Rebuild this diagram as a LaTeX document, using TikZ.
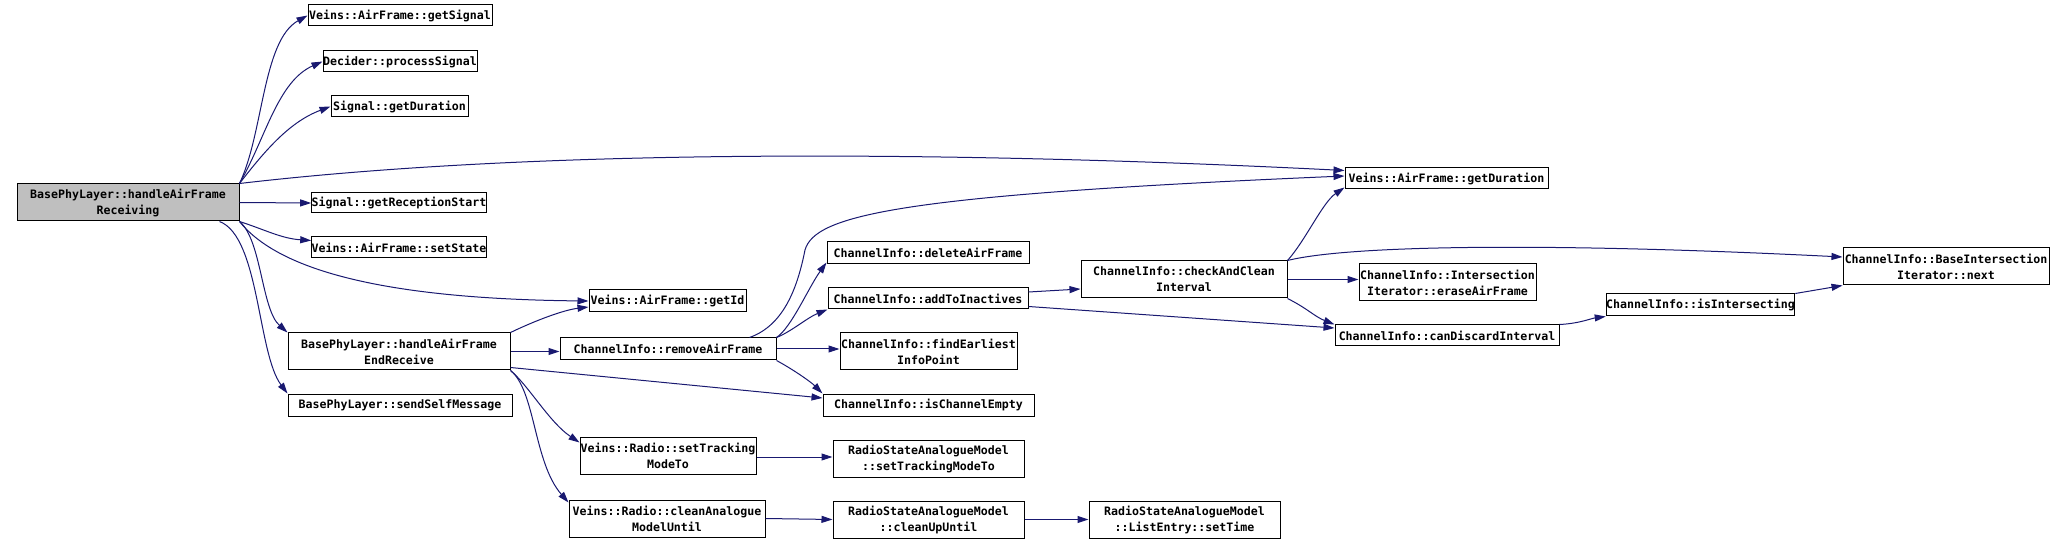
\documentclass[tikz,border=0pt]{standalone}
\usepackage{fontspec}
\setmonofont{DejaVu Sans Mono}
\usetikzlibrary{arrows.meta}
\definecolor{edgecol}{HTML}{191970}
\tikzset{
  fn/.style={draw=black, line width=1pt, inner sep=0pt, align=center,
    font=\ttfamily\bfseries\fontsize{11.6}{16}\selectfont, text=black, fill=white},
  root/.style={fn, fill=black!25},
  call/.style={draw=edgecol, line width=1pt, -{Triangle[length=11pt,width=7pt]}},
}
\begin{document}
\begin{tikzpicture}[x=1pt,y=-1pt]
\useasboundingbox (0,0) rectangle (2065,545);
% nodes
\node[root, minimum width=222pt, minimum height=37pt] (main) at (128,202.5) {BasePhyLayer::handleAirFrame\\Receiving};
\node[fn, minimum width=184pt, minimum height=21pt] (gSig) at (400,15.5) {Veins::AirFrame::getSignal};
\node[fn, minimum width=154pt, minimum height=21pt] (pSig) at (400,61.5) {Decider::processSignal};
\node[fn, minimum width=137pt, minimum height=21pt] (sgD) at (399.5,106.5) {Signal::getDuration};
\node[fn, minimum width=172pt, minimum height=20pt] (gRS) at (399,203) {Signal::getReceptionStart};
\node[fn, minimum width=172pt, minimum height=21pt] (sSt) at (399,247.5) {Veins::AirFrame::setState};
\node[fn, minimum width=157pt, minimum height=22pt] (gId) at (667.5,301) {Veins::AirFrame::getId};
\node[fn, minimum width=222pt, minimum height=37pt] (hafer) at (399,351.5) {BasePhyLayer::handleAirFrame\\EndReceive};
\node[fn, minimum width=224pt, minimum height=22pt] (ssm) at (400,405) {BasePhyLayer::sendSelfMessage};
\node[fn, minimum width=216pt, minimum height=22pt] (raf) at (668,349) {ChannelInfo::removeAirFrame};
\node[fn, minimum width=176pt, minimum height=37pt] (rstm) at (668,455.5) {Veins::Radio::setTracking\\ModeTo};
\node[fn, minimum width=196pt, minimum height=37pt] (camu) at (667,518.5) {Veins::Radio::cleanAnalogue\\ModelUntil};
\node[fn, minimum width=202pt, minimum height=22pt] (daf) at (928,253) {ChannelInfo::deleteAirFrame};
\node[fn, minimum width=200pt, minimum height=21pt] (ati) at (928,298.5) {ChannelInfo::addToInactives};
\node[fn, minimum width=177pt, minimum height=37pt] (feip) at (928.5,351.5) {ChannelInfo::findEarliest\\InfoPoint};
\node[fn, minimum width=211pt, minimum height=22pt] (ice) at (928.5,405) {ChannelInfo::isChannelEmpty};
\node[fn, minimum width=191pt, minimum height=37pt] (rsamstm) at (928.5,458.5) {RadioStateAnalogueModel\\::setTrackingModeTo};
\node[fn, minimum width=191pt, minimum height=37pt] (cuu) at (928.5,519.5) {RadioStateAnalogueModel\\::cleanUpUntil};
\node[fn, minimum width=203pt, minimum height=21pt] (afgd) at (1446.5,178.5) {Veins::AirFrame::getDuration};
\node[fn, minimum width=206pt, minimum height=37pt] (caci) at (1184,279.5) {ChannelInfo::checkAndClean\\Interval};
\node[fn, minimum width=177pt, minimum height=37pt] (eaf) at (1447.5,282.5) {ChannelInfo::Intersection\\Iterator::eraseAirFrame};
\node[fn, minimum width=224pt, minimum height=21pt] (cdi) at (1447,335.5) {ChannelInfo::canDiscardInterval};
\node[fn, minimum width=191pt, minimum height=37pt] (stime) at (1184.5,519.5) {RadioStateAnalogueModel\\::ListEntry::setTime};
\node[fn, minimum width=185pt, minimum height=22pt] (isi) at (1700.5,305) {ChannelInfo::isIntersecting};
\node[fn, minimum width=206pt, minimum height=37pt] (biin) at (1946,266.5) {ChannelInfo::BaseIntersection\\Iterator::next};
% edges from main
\draw[call] (main.north east) .. controls +(24,-50) and +(-45,25) .. (gSig.west);
\draw[call] (main.north east) .. controls +(26,-45) and +(-45,20) .. (pSig.west);
\draw[call] (main.north east) .. controls +(27,-35) and +(-40,15) .. (sgD.west);
\draw[call] (main.north east) .. controls +(300,-35) and +(-400,-20) .. ([yshift=8pt]afgd.west);
\draw[call] (main.east) -- (gRS.west);
\draw[call] (main.south east) .. controls +(25,8) and +(-30,-2) .. ([yshift=7pt]sSt.west);
\draw[call] (main.south east) .. controls +(40,50) and +(-200,-2) .. (gId.west);
\draw[call] (main.south east) .. controls +(22,18) and +(-26,-23) .. (hafer.north west);
\draw[call] ([xshift=-20pt]main.south east) .. controls +(40,15) and +(-30,-40) .. (ssm.north west);
% edges from hafer
\draw[call] (hafer.north east) .. controls +(25,-12) and +(-25,3) .. ([yshift=-6pt]gId.west);
\draw[call] (hafer.east) -- (hafer.east -| raf.west);
\draw[call] ([yshift=3pt]hafer.south east) -- ([yshift=7pt]ice.west);
\draw[call] (hafer.south east) .. controls +(18,15) and +(-30,-20) .. ([yshift=-6pt]rstm.north west);
\draw[call] (hafer.south east) .. controls +(25,20) and +(-35,-40) .. ([yshift=-3pt]camu.north west);
% edges from raf
\draw[call] ([xshift=-27pt]raf.north east) .. controls (785,325) and (798,285) .. (805,250) .. controls (815,215) and (900,195) .. ([yshift=2.5pt]afgd.west);
\draw[call] (raf.north east) .. controls +(15,-10) and +(-18,25) .. ([yshift=2pt]daf.south west);
\draw[call] (raf.north east) .. controls +(15,-6) and +(-20,8) .. (ati.south west);
\draw[call] (raf.east) -- (raf.east -| feip.west);
\draw[call] (raf.south east) .. controls +(15,8) and +(-12,-12) .. (ice.north west);
% edges from ati
\draw[call] ([yshift=6.5pt]ati.east) -- ([yshift=-9.5pt]caci.west);
\draw[call] ([yshift=-8pt]ati.east) -- ([yshift=7.5pt]cdi.west);
% edges from caci
\draw[call] (caci.north east) .. controls +(18,-20) and +(-22,15) .. ([yshift=2pt]afgd.south west);
\draw[call] (caci.north east) .. controls +(60,-15) and +(-300,-15) .. ([yshift=9.5pt]biin.west);
\draw[call] (caci.east) -- (caci.east -| eaf.west);
\draw[call] (caci.south east) .. controls +(20,10) and +(-20,-8) .. (cdi.north west);
% others
\draw[call] (cdi.north east) .. controls +(20,-1) and +(-15,2) .. (isi.south west);
\draw[call] (isi.north east) -- (biin.south west);
\draw[call] ([yshift=-1.5pt]rstm.east) -- ([yshift=1.5pt]rsamstm.west);
\draw[call] (camu.east) -- (cuu.west);
\draw[call] (cuu.east) -- (stime.west);
\end{tikzpicture}
\end{document}
